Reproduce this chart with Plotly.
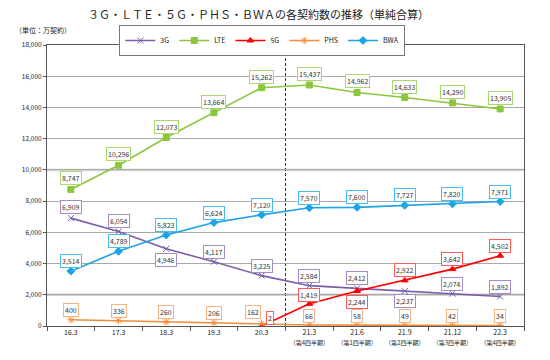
import plotly.graph_objects as go

categories = ["16.3", "17.3", "18.3", "19.3", "20.3", "21.3", "21.6", "21.9", "21.12", "22.3"]
quarter_notes = ["", "", "", "", "", "（第4四半期）", "（第1四半期）", "（第2四半期）", "（第3四半期）", "（第4四半期）"]

v_3g = [6909, 6054, 4946, 4117, 3225, 2584, 2412, 2237, 2074, 1892]
v_lte = [8747, 10296, 12073, 13664, 15262, 15437, 14962, 14633, 14290, 13905]
v_5g = [None, None, None, None, 2, 1419, 2244, 2922, 3642, 4502]
v_phs = [400, 336, 260, 206, 162, 66, 58, 49, 42, 34]
v_bwa = [3514, 4789, 5823, 6624, 7120, 7570, 7600, 7727, 7820, 7971]

title = "３Ｇ・ＬＴＥ・５Ｇ・ＰＨＳ・ＢＷＡの各契約数の推移（単純合算）"
unit_label = "（単位：万契約）"

FONT = "Noto Sans CJK JP"

series = [
    # name, values, line colour, label border colour, marker symbol, label yshifts, label xshifts
    ("3G", v_3g, "#7b5ea7", "#a58cc8", "x-thin-open", [11, 10, -11, 10, 10, 10, 10, -10, 10, 9], None),
    ("LTE", v_lte, "#8cc63e", "#a9d870", "square", [11] * 10, None),
    ("5G", v_5g, "#ff0000", "#ff5a5a", "triangle-up", [None, None, None, None, 8, 9, -11, 10, 10, 10],
     [0, 0, 0, 0, 8, 0, 0, 0, 0, 0]),
    ("PHS", v_phs, "#f28c3c", "#f6b283", "asterisk-open", [10, 10, 10, 10, 11, 9, 9, 9, 9, 9],
     [0, 0, 0, 0, -9, 0, 0, 0, 0, 0]),
    ("BWA", v_bwa, "#1aa3e6", "#45bdf0", "diamond", [10] * 10, None),
]

x_idx = list(range(len(categories)))

fig = go.Figure()
annotations = []
for name, vals, col, bcol, sym, yshifts, xshifts in series:
    fig.add_trace(go.Scatter(
        x=x_idx, y=vals, name=name, mode="lines+markers",
        line=dict(color=col, width=1.6),
        marker=dict(symbol=sym, size=6, color=col, line=dict(color=col, width=1)),
        connectgaps=False,
    ))
    for i, v in enumerate(vals):
        if v is None:
            continue
        annotations.append(dict(
            x=x_idx[i], y=v, xref="x", yref="y",
            text=f"{v:,}", showarrow=False,
            yshift=yshifts[i], xshift=(xshifts[i] if xshifts else 0),
            font=dict(size=7, color="#333333", family=FONT),
            bgcolor="white", bordercolor=bcol, borderwidth=1, borderpad=1,
        ))

ticktext = []
for c, q in zip(categories, quarter_notes):
    if q:
        ticktext.append(f"{c}<br><span style='font-size:6px'>{q}</span>")
    else:
        ticktext.append(c)

annotations.append(dict(
    x=0.0, y=1.0, xref="paper", yref="paper", xanchor="right", yanchor="bottom",
    text=unit_label, showarrow=False, xshift=26, yshift=8,
    font=dict(size=7, color="#222222", family=FONT),
))

fig.update_layout(
    width=550, height=360,
    margin=dict(l=47, r=26, t=45, b=34, autoexpand=False),
    paper_bgcolor="white", plot_bgcolor="white",
    title=dict(text=title, x=0.47, xanchor="center", xref="container",
               y=1 - 15 / 360, yref="container", yanchor="middle",
               font=dict(size=11, color="#222222", family=FONT)),
    font=dict(family=FONT, size=7, color="#333333"),
    legend=dict(orientation="h", x=0.477, xanchor="center", xref="container",
                y=1 - 25 / 360, yanchor="top", yref="container",
                bordercolor="#777777", borderwidth=1, bgcolor="white",
                font=dict(size=7, family=FONT, color="#222222"),
                itemwidth=30),
    showlegend=True,
    annotations=annotations,
    shapes=[
        dict(type="line", xref="paper", yref="y", x0=0, x1=1, y0=10000, y1=10000,
             line=dict(color="#d4d4d4", width=2.5), layer="between"),
        dict(type="line", xref="paper", yref="y", x0=0, x1=1, y0=2000, y1=2000,
             line=dict(color="#d4d4d4", width=2.5), layer="between"),
        dict(type="line", xref="x", yref="paper", x0=4.5, x1=4.5, y0=0, y1=1,
             line=dict(color="#333333", width=1, dash="3px,2px"), layer="between"),
    ],
)

fig.update_xaxes(
    tickmode="array", tickvals=x_idx, ticktext=ticktext, tickangle=0,
    showline=True, linecolor="#555555", linewidth=1, mirror=True,
    ticks="", showgrid=False, zeroline=False,
    tickfont=dict(size=7, color="#222222", family=FONT),
    range=[-0.5, 9.5], automargin=False,
    minor=dict(tickmode="array", tickvals=[i + 0.5 for i in range(-1, 10)],
               ticks="outside", ticklen=4, tickcolor="#555555", showgrid=False),
)
fig.update_yaxes(
    range=[0, 18000], dtick=2000, tickformat=",d",
    showline=True, linecolor="#555555", linewidth=1, mirror=True,
    ticks="outside", ticklen=3, tickcolor="#555555",
    showgrid=True, gridcolor="#a8a8a8", gridwidth=1, zeroline=False,
    tickfont=dict(size=6.5, color="#222222", family=FONT), automargin=False,
)

fig.write_html(
    "out.html",
    config={"displayModeBar": False},
    post_script="document.body.style.margin='0px';document.body.style.overflow='hidden';",
)
